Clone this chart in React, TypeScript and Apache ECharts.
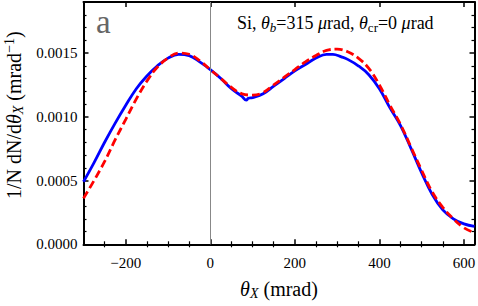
import React, { useEffect, useRef } from "react";
import * as echarts from "echarts";

const xMajor = [-200, 0, 200, 400, 600];
const xMinor = [-250, -150, -100, -50, 50, 100, 150, 250, 300, 350, 450, 500, 550];

const blueX = [-300, -275, -250, -225, -200, -175, -150, -125, -100, -75, -50, -25, 0, 25, 50, 75, 85, 90, 100, 125, 150, 175, 200, 225, 250, 275, 290, 310, 325, 350, 375, 400, 425, 450, 475, 500, 525, 550, 575, 600, 625];
const blueY = [0.00049, 0.00064, 0.0008, 0.00095, 0.00109, 0.00122, 0.00132, 0.0014, 0.00146, 0.00149, 0.00148, 0.00143, 0.00137, 0.0013, 0.00122, 0.00116, 0.00113, 0.001145, 0.00115, 0.00118, 0.00124, 0.0013, 0.00136, 0.00141, 0.00146, 0.00149, 0.00149, 0.00147, 0.00145, 0.0014, 0.00133, 0.00122, 0.00107, 0.00093, 0.00075, 0.00056, 0.00039, 0.00027, 0.0002, 0.00016, 0.00014];

const redX = [-300, -275, -250, -225, -200, -175, -150, -125, -100, -75, -50, -25, 0, 25, 50, 75, 100, 125, 150, 175, 200, 225, 250, 275, 300, 325, 350, 375, 400, 425, 450, 475, 500, 525, 550, 575, 600, 625];
const redY = [0.00036, 0.0005, 0.00065, 0.00082, 0.00098, 0.00114, 0.00128, 0.00139, 0.00146, 0.0015, 0.00149, 0.00144, 0.00137, 0.0013, 0.00123, 0.00118, 0.00117, 0.00119, 0.00125, 0.00131, 0.00137, 0.00143, 0.00148, 0.00152, 0.00153, 0.00151, 0.00146, 0.00138, 0.00125, 0.00109, 0.00094, 0.00076, 0.00058, 0.00041, 0.00029, 0.0002, 0.00013, 0.00009];

const FONT = "'Liberation Serif', 'Times New Roman', 'DejaVu Serif', serif";

function makeRich(size: number) {
  const s = Math.round(size * 0.7);
  const off = Math.round(size * 0.45);
  return {
    i: { fontFamily: FONT, fontStyle: "italic", fontSize: size, color: "#000" },
    sub: { fontFamily: FONT, fontStyle: "italic", fontSize: s, color: "#000", verticalAlign: "bottom", padding: [off, 0, 0, 0] },
    subr: { fontFamily: FONT, fontSize: s, color: "#000", verticalAlign: "bottom", padding: [off, 0, 0, 0] },
    sup: { fontFamily: FONT, fontSize: s, color: "#000", verticalAlign: "top", padding: [0, 0, off, 0] },
    n: { fontFamily: FONT, fontSize: size, color: "#000" },
  };
}

export default function App() {
  const ref = useRef<HTMLDivElement>(null);
  useEffect(() => {
    const chart = echarts.init(ref.current!, null, { renderer: "svg" });
    const xBase = {
      type: "value" as const,
      min: -300,
      max: 625,
      splitLine: { show: false },
    };
    const yBase = {
      type: "value" as const,
      min: 0,
      max: 0.0019,
      interval: 0.0005,
      splitLine: { show: false },
    };
    const axisLine = { show: true, onZero: false, lineStyle: { color: "#000", width: 2 } };
    const titleRich = makeRich(20);
    chart.setOption({
      animation: false,
      grid: { left: 83.5, right: 3.5, top: 2, bottom: 61.7, containLabel: false, outerBoundsMode: "none" },
      xAxis: [
        {
          ...xBase,
          position: "bottom",
          axisLine,
          axisTick: { show: true, inside: true, length: 5, customValues: xMajor, lineStyle: { color: "#000", width: 1.5 } },
          axisLabel: {
            customValues: xMajor,
            fontFamily: FONT,
            fontSize: 15,
            color: "#000",
            margin: 11,
            formatter: (v: number) => (v < 0 ? "\u2212" + Math.abs(v) : String(v)),
          },
          name: "{i|θ}{sub|X}{n| (mrad)}",
          nameLocation: "middle",
          nameGap: 33,
          nameTextStyle: { rich: titleRich },
        },
        {
          ...xBase,
          position: "bottom",
          axisLine: { show: false },
          axisTick: { show: true, inside: true, length: 3, customValues: xMinor, lineStyle: { color: "#000", width: 1.2 } },
          axisLabel: { show: false },
        },
        {
          ...xBase,
          position: "top",
          axisLine,
          axisTick: { show: true, inside: true, length: 5, customValues: xMajor, lineStyle: { color: "#000", width: 1.5 } },
          axisLabel: { show: false },
        },
        {
          ...xBase,
          position: "top",
          axisLine: { show: false },
          axisTick: { show: true, inside: true, length: 3, customValues: xMinor, lineStyle: { color: "#000", width: 1.2 } },
          axisLabel: { show: false },
        },
      ],
      yAxis: [
        {
          ...yBase,
          position: "left",
          axisLine,
          axisTick: { show: true, inside: true, length: 5, lineStyle: { color: "#000", width: 1.5 } },
          minorTick: { show: true, splitNumber: 5, length: 3, lineStyle: { color: "#000", width: 1.2 } },
          axisLabel: {
            fontFamily: FONT,
            fontSize: 15,
            color: "#000",
            margin: 6,
            showMaxLabel: false,
            formatter: (v: number) => (v > 0.00185 ? "" : v.toFixed(4)),
          },
          name: "{n|1/N dN/d}{i|θ}{sub|X}{n| (mrad}{sup|−1}{n|)}",
          nameLocation: "middle",
          nameGap: 54,
          nameRotate: 90,
          nameTextStyle: { rich: titleRich, padding: [0, 0, 0, 16] },
        },
        {
          ...yBase,
          position: "right",
          axisLine,
          axisTick: { show: true, inside: true, length: 5, lineStyle: { color: "#000", width: 1.5 } },
          minorTick: { show: true, splitNumber: 5, length: 3, lineStyle: { color: "#000", width: 1.2 } },
          axisLabel: { show: false },
        },
      ],
      graphic: [
        {
          type: "text",
          left: 96,
          top: 5,
          style: { text: "a", fontFamily: FONT, fontSize: 33, fill: "#666" },
        },
        {
          type: "text",
          left: 237,
          top: 14,
          style: {
            text: "{n|Si, }{i|θ}{sub|b}{n|=315 }{i|μ}{n|rad, }{i|θ}{subr|cr}{n|=0 }{i|μ}{n|rad}",
            rich: makeRich(18),
          },
        },
      ],
      series: [
        {
          type: "line",
          xAxisIndex: 0,
          yAxisIndex: 0,
          data: blueX.map((x, i) => [x, blueY[i]]),
          smooth: 0.4,
          showSymbol: false,
          lineStyle: { color: "#0000ff", width: 2.8 },
          z: 3,
          markLine: {
            silent: true,
            symbol: "none",
            label: { show: false },
            lineStyle: { color: "#888", width: 1, type: "solid" },
            data: [{ xAxis: 0 }],
          },
        },
        {
          type: "line",
          xAxisIndex: 0,
          yAxisIndex: 0,
          data: redX.map((x, i) => [x, redY[i]]),
          smooth: 0.4,
          showSymbol: false,
          lineStyle: { color: "#ff0000", width: 2.8, type: [8, 4] },
          z: 4,
        },
      ],
    });
    return () => chart.dispose();
  }, []);
  return <div ref={ref} style={{ width: 478, height: 306, position: "absolute", left: 0, top: 0 }} />;
}
